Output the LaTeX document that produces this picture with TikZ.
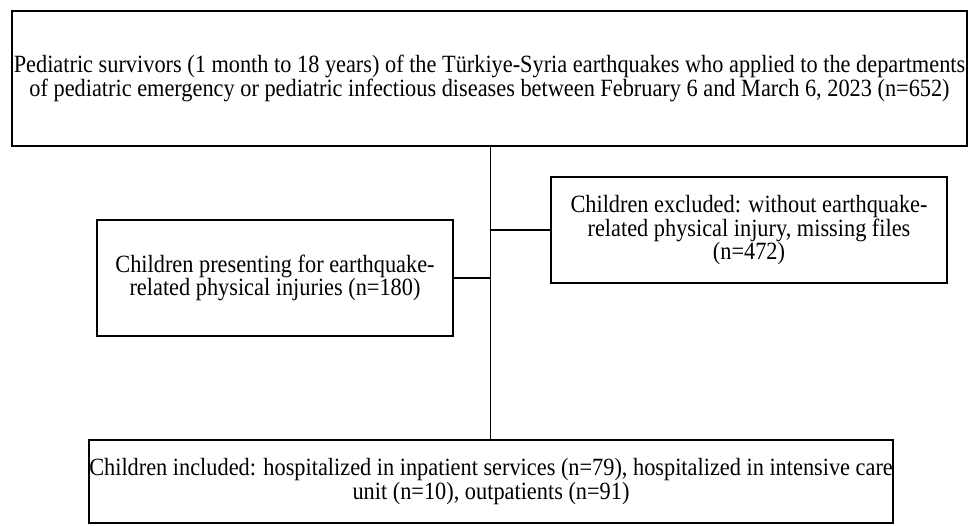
\documentclass[tikz,border=0pt]{standalone}
\usepackage{fontspec}
\setmainfont[FakeStretch=0.9]{Liberation Serif}
\begin{document}
\begin{tikzpicture}[x=1pt,y=-1pt,
  box/.style={draw, line width=2pt, inner sep=0pt, align=center,
    font=\fontsize{24.8}{22}\selectfont},
  link/.style={line width=1.7pt}]
\useasboundingbox (0,0) rectangle (971,525);
\node[box, minimum width=955pt, minimum height=135pt] (top) at (489.5,78.5)
  {Pediatric survivors (1 month to 18 years) of the Türkiye-Syria earthquakes who applied to the departments\\
   of pediatric emergency or pediatric infectious diseases between February 6 and March 6, 2023 (n=652)};
\node[box, minimum width=396pt, minimum height=106pt] (excl) at (749,230)
  {Children excluded: without earthquake-\\related physical injury, missing files\\(n=472)};
\node[box, minimum width=356pt, minimum height=116pt] (pres) at (275,278)
  {Children presenting for earthquake-\\related physical injuries (n=180)};
\node[box, minimum width=800pt, minimum height=83pt] (incl) at (491,481.5)
  {Children included: hospitalized in inpatient services (n=79), hospitalized in intensive care\\unit (n=10), outpatients (n=91)};
\coordinate (v) at (490.5,146);
\draw[link] (v) -- (v |- incl.north);
\draw[link] (v |- excl.west) -- (excl.west);
\draw[link] (pres.east) -- (pres.east -| v);
\end{tikzpicture}
\end{document}
